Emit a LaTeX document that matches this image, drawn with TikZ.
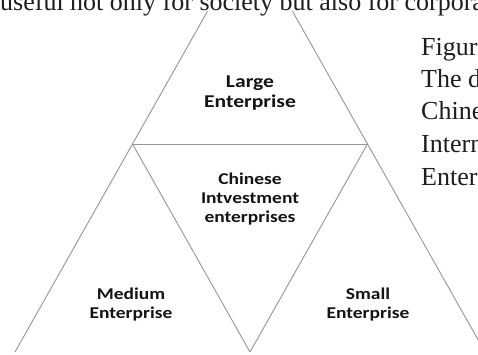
\documentclass[tikz,border=0pt]{standalone}
\usepackage{fontspec}
\setmainfont{Liberation Serif}
\newfontfamily\labelfont{Carlito}
\definecolor{edgegray}{RGB}{150,150,150}
\definecolor{labelink}{RGB}{20,20,20}
\definecolor{bodyink}{RGB}{30,30,30}
% centred lines of a tier label, widened horizontally
\newcommand\tierbox[2]{\scalebox{#1}[1]{\begin{tabular}{@{}c@{}}#2\end{tabular}}}
\begin{document}
\begin{tikzpicture}[x=1pt,y=-1pt,
  edge/.style={draw=edgegray, line width=0.9pt},
  tierlabel/.style={font=\labelfont\bfseries\fontsize{16.5}{19}\selectfont,
    text=labelink, inner sep=0pt},
  toplabel/.style={tierlabel, font=\labelfont\bfseries\fontsize{18}{20}\selectfont},
  bodytext/.style={font=\fontsize{26}{32}\selectfont, text=bodyink,
    inner sep=0pt, anchor=base west}]
\useasboundingbox (0,0) rectangle (478,354);
\clip (0,0) rectangle (478,354);
\fill[white] (0,0) rectangle (478,354);

% corners of the pyramid of four triangles
\coordinate (apex)  at (250,-64);
\coordinate (midL)  at (132.5,144);
\coordinate (midR)  at (367.5,144);
\coordinate (baseL) at (15,352);
\coordinate (baseM) at (250,352);
\coordinate (baseR) at (485,352);

\draw[edge] (apex) -- (baseL);
\draw[edge] (apex) -- (baseR);
\draw[edge] (midL) -- (midR);
\draw[edge] (midL) -- (baseM);
\draw[edge] (midR) -- (baseM);

\node[toplabel]  (large)   at (250,93.5) {\tierbox{1.2}{Large\\Enterprise}};
\node[tierlabel] (chinese) at (250,200)  {\tierbox{1.18}{Chinese\\Intvestment\\enterprises}};
\node[tierlabel] (medium)  at (131,305)  {\tierbox{1.18}{Medium\\Enterprise}};
\node[tierlabel] (small)   at (368,305)  {\tierbox{1.18}{Small\\Enterprise}};

% running text of the surrounding page
\fill[white] (0,0) rectangle (478,11);
\node[bodytext] (topline) at (0,10) {useful not only for society but also for corporate};
\node[bodytext] (cap1) at (421,55)  {Figure};
\node[bodytext] (cap2) at (421,87)  {The d};
\node[bodytext] (cap3) at (421,119) {Chinese};
\node[bodytext] (cap4) at (421,152) {Intern};
\node[bodytext] (cap5) at (421,185) {Enterp};
\end{tikzpicture}
\end{document}
